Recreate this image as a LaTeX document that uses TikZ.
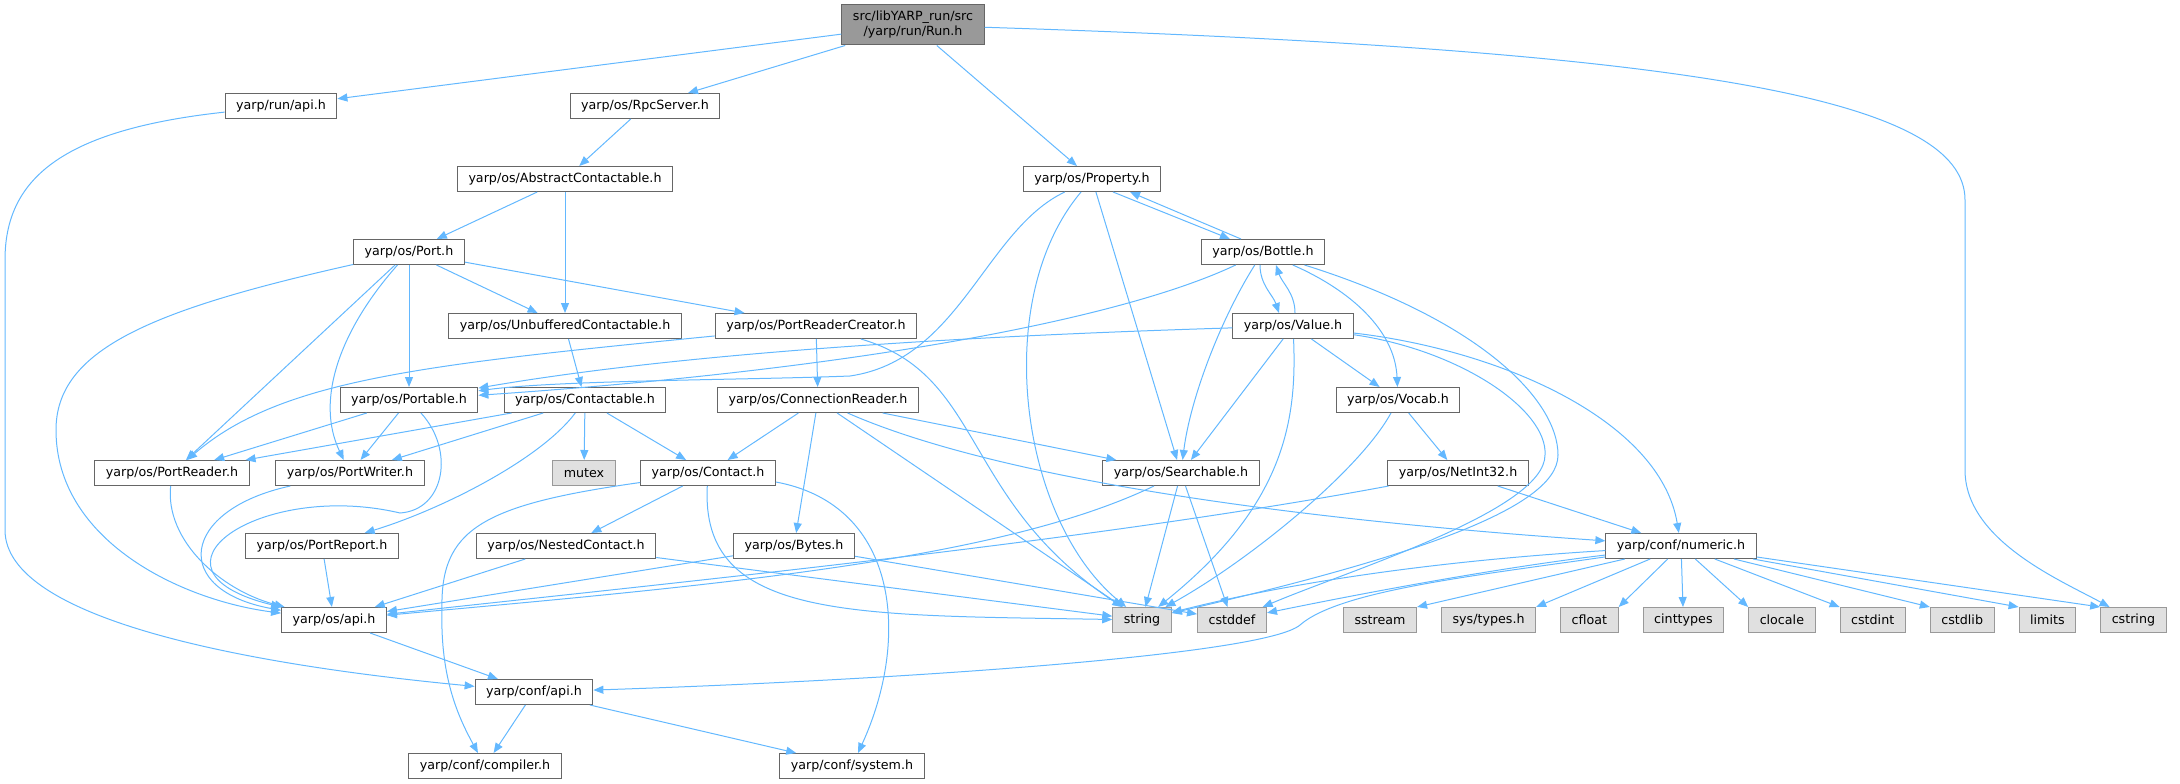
\documentclass[tikz,border=0pt]{standalone}
\usepackage{fontspec}
\setmainfont{DejaVu Sans}
\usetikzlibrary{positioning, calc, arrows.meta}
\definecolor{edgeblue}{HTML}{63B8FF}
\definecolor{boxline}{HTML}{666666}
\definecolor{sysline}{HTML}{999999}
\definecolor{sysfill}{HTML}{E0E0E0}
\definecolor{rootfill}{HTML}{999999}
\tikzstyle{File} = [
draw=boxline, fill=white, line width=0.75pt,
inner xsep=8.3pt, inner ysep=0pt,
minimum height=18.75pt,
font=\fontsize{9.5}{11.25}\selectfont]
\tikzstyle{Sys} = [File, draw=sysline, fill=sysfill]
\tikzstyle{Root} = [File, fill=rootfill, minimum height=30pt, align=center]
\tikzstyle{Arrow} = [
draw=edgeblue, line width=0.75pt,
-{Triangle[length=7.5pt, width=6pt]}]

\begin{document}
\begin{tikzpicture}[x=0.75pt, y=-0.75pt]
    \useasboundingbox (0,0) rectangle (2180,784);
    \node [Root] (run) at (913,25) {src/libYARP\_run/src\\/yarp/run/Run.h};
    \node [File] (runapi) at (281,106) {yarp/run/api.h};
    \node [File] (rpc) at (645,106) {yarp/os/RpcServer.h};
    \node [File] (abscont) at (565,179) {yarp/os/AbstractContactable.h};
    \node [File] (prop) at (1092,179) {yarp/os/Property.h};
    \node [File] (port) at (409,252) {yarp/os/Port.h};
    \node [File] (bottle) at (1263,252) {yarp/os/Bottle.h};
    \node [File] (unbuf) at (565,326) {yarp/os/UnbufferedContactable.h};
    \node [File] (prc) at (816,326) {yarp/os/PortReaderCreator.h};
    \node [File] (value) at (1293,326) {yarp/os/Value.h};
    \node [File] (portable) at (409,400) {yarp/os/Portable.h};
    \node [File] (contactable) at (585,400) {yarp/os/Contactable.h};
    \node [File] (connreader) at (818,400) {yarp/os/ConnectionReader.h};
    \node [File] (vocab) at (1398,400) {yarp/os/Vocab.h};
    \node [File] (preader) at (172,473) {yarp/os/PortReader.h};
    \node [File] (pwriter) at (350,473) {yarp/os/PortWriter.h};
    \node [Sys] (mutex) at (584,473) {mutex};
    \node [File] (contact) at (708,473) {yarp/os/Contact.h};
    \node [File] (searchable) at (1181,473) {yarp/os/Searchable.h};
    \node [File] (netint) at (1458,473) {yarp/os/NetInt32.h};
    \node [File] (preport) at (322,546) {yarp/os/PortReport.h};
    \node [File] (nested) at (566,546) {yarp/os/NestedContact.h};
    \node [File] (bytes) at (794,546) {yarp/os/Bytes.h};
    \node [File] (numeric) at (1681,546) {yarp/conf/numeric.h};
    \node [File] (osapi) at (334,620) {yarp/os/api.h};
    \node [Sys] (string) at (1142,620) {string};
    \node [Sys] (cstddef) at (1232,620) {cstddef};
    \node [Sys] (sstream) at (1380,620) {sstream};
    \node [Sys, right=18pt of sstream] (systypes) {sys/types.h};
    \node [Sys, right=18pt of systypes] (cfloat) {cfloat};
    \node [Sys, right=18pt of cfloat] (cinttypes) {cinttypes};
    \node [Sys, right=18pt of cinttypes] (clocale) {clocale};
    \node [Sys, right=18pt of clocale] (cstdint) {cstdint};
    \node [Sys, right=18pt of cstdint] (cstdlib) {cstdlib};
    \node [Sys, right=18pt of cstdlib] (limits) {limits};
    \node [Sys, right=18pt of limits] (cstring) {cstring};
    \node [File] (confapi) at (534,692) {yarp/conf/api.h};
    \node [File] (compiler) at (485,766) {yarp/conf/compiler.h};
    \node [File] (system) at (852,766) {yarp/conf/system.h};
    % Run.h
    \draw[Arrow] (run) -- (runapi);
    \draw[Arrow] (run) -- (rpc);
    \draw[Arrow] (run) -- (prop);
    \draw[Arrow] (run) .. controls (1700,50) and (1965,100) .. (1965,200)
        -- (1965,470) .. controls (1965,540) and (2060,580) .. (cstring);
    \draw[Arrow] (runapi) .. controls (60,130) and (5,180) .. (5,260)
        -- (5,530) .. controls (5,620) and (250,665) .. (confapi);
    \draw[Arrow] (rpc) -- (abscont);
    \draw[Arrow] (abscont) -- (port);
    \draw[Arrow] (abscont) -- (unbuf);
    % Port.h
    \draw[Arrow] (port) .. controls (150,310) and (56,350) .. (56,430)
        .. controls (56,540) and (180,600) .. (osapi);
    \draw[Arrow] (port) -- (preader);
    \draw[Arrow] (port) .. controls (340,330) and (315,400) .. (pwriter);
    \draw[Arrow] (port) -- (portable);
    \draw[Arrow] (port) -- (unbuf);
    \draw[Arrow] (port) -- (prc);
    \draw[Arrow] (unbuf) -- (contactable);
    \draw[Arrow] (prc) .. controls (420,365) and (280,380) .. (preader);
    \draw[Arrow] (prc) -- (connreader);
    \draw[Arrow] (prc) .. controls (985,375) and (960,500) .. (string);
    % ConnectionReader.h
    \draw[Arrow] (connreader) -- (contact);
    \draw[Arrow] (connreader) -- (bytes);
    \draw[Arrow] (connreader) -- (string);
    \draw[Arrow] (connreader) -- (searchable);
    \draw[Arrow] (connreader) .. controls (1000,480) and (1300,520) .. (numeric);
    % Contactable.h
    \draw[Arrow] (contactable) -- (preader);
    \draw[Arrow] (contactable) -- (pwriter);
    \draw[Arrow] (contactable) .. controls (540,460) and (440,510) .. (preport);
    \draw[Arrow] (contactable) -- (mutex);
    \draw[Arrow] (contactable) -- (contact);
    % Portable.h
    \draw[Arrow] (portable) -- (preader);
    \draw[Arrow] (portable) -- (pwriter);
    \draw[Arrow] (portable) .. controls (455,450) and (445,510) .. (400,513)
        .. controls (260,480) and (130,570) .. (osapi);
    % Property.h
    \draw[Arrow] (prop) .. controls (985,230) and (960,360) .. (850,376)
        .. controls (750,380) and (560,380) .. (portable);
    \draw[Arrow] (prop) .. controls (990,300) and (1020,520) .. (string);
    \draw[Arrow] (prop) -- (searchable);
    \draw[Arrow] ($(prop.south)+(21,0)$) -- ($(bottle.north)+(-33,0)$);
    % Bottle.h
    \draw[Arrow] ($(bottle.north)+(-22,0)$) -- ($(prop.south)+(38,0)$);
    \draw[Arrow] (bottle) .. controls (1120,320) and (850,370) .. (portable);
    \draw[Arrow] (bottle) .. controls (1220,320) and (1190,400) .. (searchable);
    \draw[Arrow] ($(bottle.south)+(-3,0)$) .. controls +(0,20) and +(-6,-18) .. ($(value.north)+(-14,0)$);
    \draw[Arrow] (bottle) .. controls (1350,290) and (1395,330) .. (vocab);
    \draw[Arrow] (bottle) .. controls (1480,320) and (1558,400) .. (1558,455)
        .. controls (1558,510) and (1400,560) .. (string);
    % Value.h
    \draw[Arrow] ($(value.north)+(2,0)$) .. controls +(0,-20) and +(6,18) .. ($(bottle.south)+(13,0)$);
    \draw[Arrow] (value) .. controls (1000,335) and (700,350) .. (portable);
    \draw[Arrow] (value) -- (searchable);
    \draw[Arrow] (value) .. controls (1297,420) and (1285,505) .. (string);
    \draw[Arrow] (value) -- (vocab);
    \draw[Arrow] (value) .. controls (1500,350) and (1660,420) .. (numeric);
    \draw[Arrow] (value) .. controls (1460,350) and (1548,410) .. (1545,455)
        .. controls (1545,510) and (1350,570) .. (cstddef);
    % Vocab.h, NetInt32.h, Searchable.h
    \draw[Arrow] (vocab) -- (netint);
    \draw[Arrow] (vocab) .. controls (1360,470) and (1250,560) .. (string);
    \draw[Arrow] (netint) .. controls (1100,540) and (700,580) .. (osapi);
    \draw[Arrow] (netint) -- (numeric);
    \draw[Arrow] (searchable) .. controls (1000,560) and (720,585) .. (osapi);
    \draw[Arrow] (searchable) -- (string);
    \draw[Arrow] (searchable) -- (cstddef);
    % Contact.h and the rest
    \draw[Arrow] (bytes) -- (osapi);
    \draw[Arrow] (bytes) -- (cstddef);
    \draw[Arrow] (nested) -- (osapi);
    \draw[Arrow] (nested) -- (string);
    \draw[Arrow] (contact) -- (nested);
    \draw[Arrow] (contact) .. controls (480,505) and (440,530) .. (442,610)
        .. controls (440,680) and (460,720) .. (compiler);
    \draw[Arrow] (contact) .. controls (700,620) and (850,615) .. (string);
    \draw[Arrow] ($(contact.east)+(0,9)$) .. controls (900,505) and (910,640) .. (system);
    \draw[Arrow] (preader) .. controls (165,540) and (220,590) .. (osapi);
    \draw[Arrow] (pwriter) .. controls (180,510) and (170,590) .. (osapi);
    \draw[Arrow] (preport) -- (osapi);
    \draw[Arrow] (osapi) -- (confapi);
    \draw[Arrow] (confapi) -- (compiler);
    \draw[Arrow] (confapi) -- (system);
    % numeric.h
    \draw[Arrow] (numeric) .. controls (1450,560) and (1300,580) .. (string);
    \draw[Arrow] (numeric) .. controls (1480,570) and (1330,600) .. (cstddef);
    \draw[Arrow] (numeric) .. controls (1480,575) and (1340,590) .. (1300,625)
        .. controls (1265,655) and (900,680) .. (confapi);
    \draw[Arrow] (numeric) -- (sstream.north east);
    \draw[Arrow] (numeric) -- (systypes.north east);
    \draw[Arrow] (numeric) -- (cfloat.north east);
    \draw[Arrow] (numeric) -- (cinttypes);
    \draw[Arrow] (numeric) -- (clocale.north west);
    \draw[Arrow] (numeric) -- (cstdint.north west);
    \draw[Arrow] (numeric) -- (cstdlib.north west);
    \draw[Arrow] (numeric) -- (limits.north west);
    \draw[Arrow] (numeric) -- (cstring.north west);
\end{tikzpicture}
\end{document}
